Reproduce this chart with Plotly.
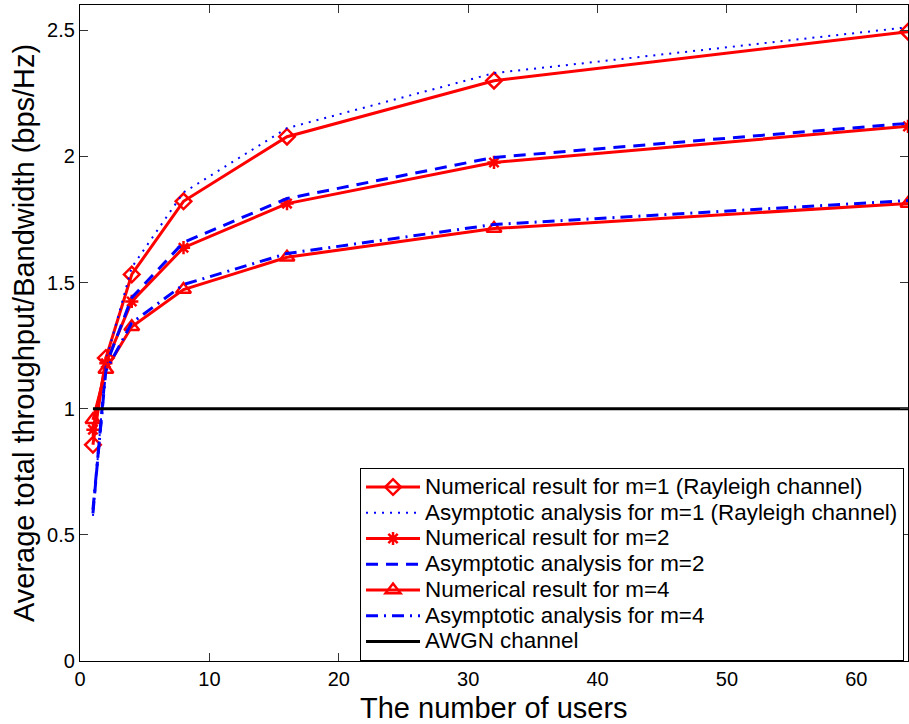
import plotly.graph_objects as go

users = [1, 2, 4, 8, 16, 32, 64]

num_m1 = [0.857, 1.201, 1.532, 1.822, 2.078, 2.300, 2.494]
asym_m1 = [0.575, 1.19, 1.56, 1.857, 2.112, 2.330, 2.512]
num_m2 = [0.917, 1.180, 1.425, 1.638, 1.813, 1.976, 2.119]
asym_m2 = [0.585, 1.17, 1.44, 1.659, 1.833, 1.996, 2.131]
num_m4 = [0.956, 1.155, 1.325, 1.472, 1.600, 1.714, 1.813]
asym_m4 = [0.600, 1.15, 1.34, 1.492, 1.615, 1.730, 1.825]
awgn_x = [1, 64]
awgn_y = [1, 1]

names = [
    "Numerical result for m=1 (Rayleigh channel)",
    "Asymptotic analysis for m=1 (Rayleigh channel)",
    "Numerical result for m=2",
    "Asymptotic analysis for m=2",
    "Numerical result for m=4",
    "Asymptotic analysis for m=4",
    "AWGN channel",
]

x_ticks = [0, 10, 20, 30, 40, 50, 60]
y_ticks = [0, 0.5, 1, 1.5, 2, 2.5]
y_tick_text = ["0", "0.5", "1", "1.5", "2", "2.5"]

FONT = "Liberation Sans, Arial, Helvetica, sans-serif"
RED = "#ff0000"
BLUE = "#0000ff"


def lg(t):
    return '<span style="font-size:22.4px">' + t + "</span>"


fig = go.Figure()
fig.add_trace(go.Scatter(x=users, y=num_m1, name=lg(names[0]), mode="lines+markers",
                         line=dict(color=RED, width=3),
                         marker=dict(symbol="diamond-open", size=12, color=RED,
                                     line=dict(width=2.5, color=RED))))
fig.add_trace(go.Scatter(x=users, y=asym_m1, name=lg(names[1]), mode="lines",
                         line=dict(color=BLUE, width=2, dash="2px,6px")))
fig.add_trace(go.Scatter(x=users, y=num_m2, name=lg(names[2]), mode="lines+markers",
                         line=dict(color=RED, width=3),
                         marker=dict(symbol="asterisk-open", size=11, color=RED,
                                     line=dict(width=2.5, color=RED))))
fig.add_trace(go.Scatter(x=users, y=asym_m2, name=lg(names[3]), mode="lines",
                         line=dict(color=BLUE, width=3, dash="12px,8px")))
fig.add_trace(go.Scatter(x=users, y=num_m4, name=lg(names[4]), mode="lines+markers",
                         line=dict(color=RED, width=3),
                         marker=dict(symbol="triangle-up-open", size=13, color=RED,
                                     line=dict(width=2.5, color=RED))))
fig.add_trace(go.Scatter(x=users, y=asym_m4, name=lg(names[5]), mode="lines",
                         line=dict(color=BLUE, width=3, dash="12px,6px,2px,6px")))
fig.add_trace(go.Scatter(x=awgn_x, y=awgn_y, name=lg(names[6]), mode="lines",
                         line=dict(color="black", width=3)))

axis_common = dict(
    showgrid=False, zeroline=False, showline=True, linecolor="black", linewidth=1.3,
    mirror="ticks", ticks="inside", ticklen=8, tickwidth=1, tickcolor="#333333",
    tickfont=dict(family=FONT, size=20, color="black"),
)

fig.update_xaxes(range=[0, 64], tickvals=x_ticks, ticktext=[str(v) for v in x_ticks], **axis_common)
fig.update_yaxes(range=[0, 2.6], tickvals=y_ticks, ticktext=y_tick_text, **axis_common)

fig.add_annotation(text="The number of users", xref="paper", yref="paper", x=0.5, y=0,
                   xanchor="center", yanchor="middle", yshift=-47, showarrow=False,
                   font=dict(family=FONT, size=29, color="black"))
fig.add_annotation(text="Average total throughput/Bandwidth (bps/Hz)", xref="paper", yref="paper",
                   x=0, y=0.5, xanchor="center", yanchor="middle", xshift=-56, textangle=-90,
                   showarrow=False, font=dict(family=FONT, size=29, color="black"))

fig.update_layout(
    width=909, height=724,
    margin=dict(l=80, r=1, t=5, b=63),
    paper_bgcolor="white", plot_bgcolor="white",
    font=dict(family=FONT, color="black"),
    showlegend=True,
    legend=dict(x=0.9952, xanchor="right", y=0.294, yanchor="top",
                bgcolor="white", bordercolor="black", borderwidth=1,
                font=dict(family=FONT, size=17.5, color="black"),
                tracegroupgap=0, itemwidth=54),
)

fig.write_html("out.html", config={"displayModeBar": False},
               post_script="document.body.style.margin='0';document.body.style.overflow='hidden';")
